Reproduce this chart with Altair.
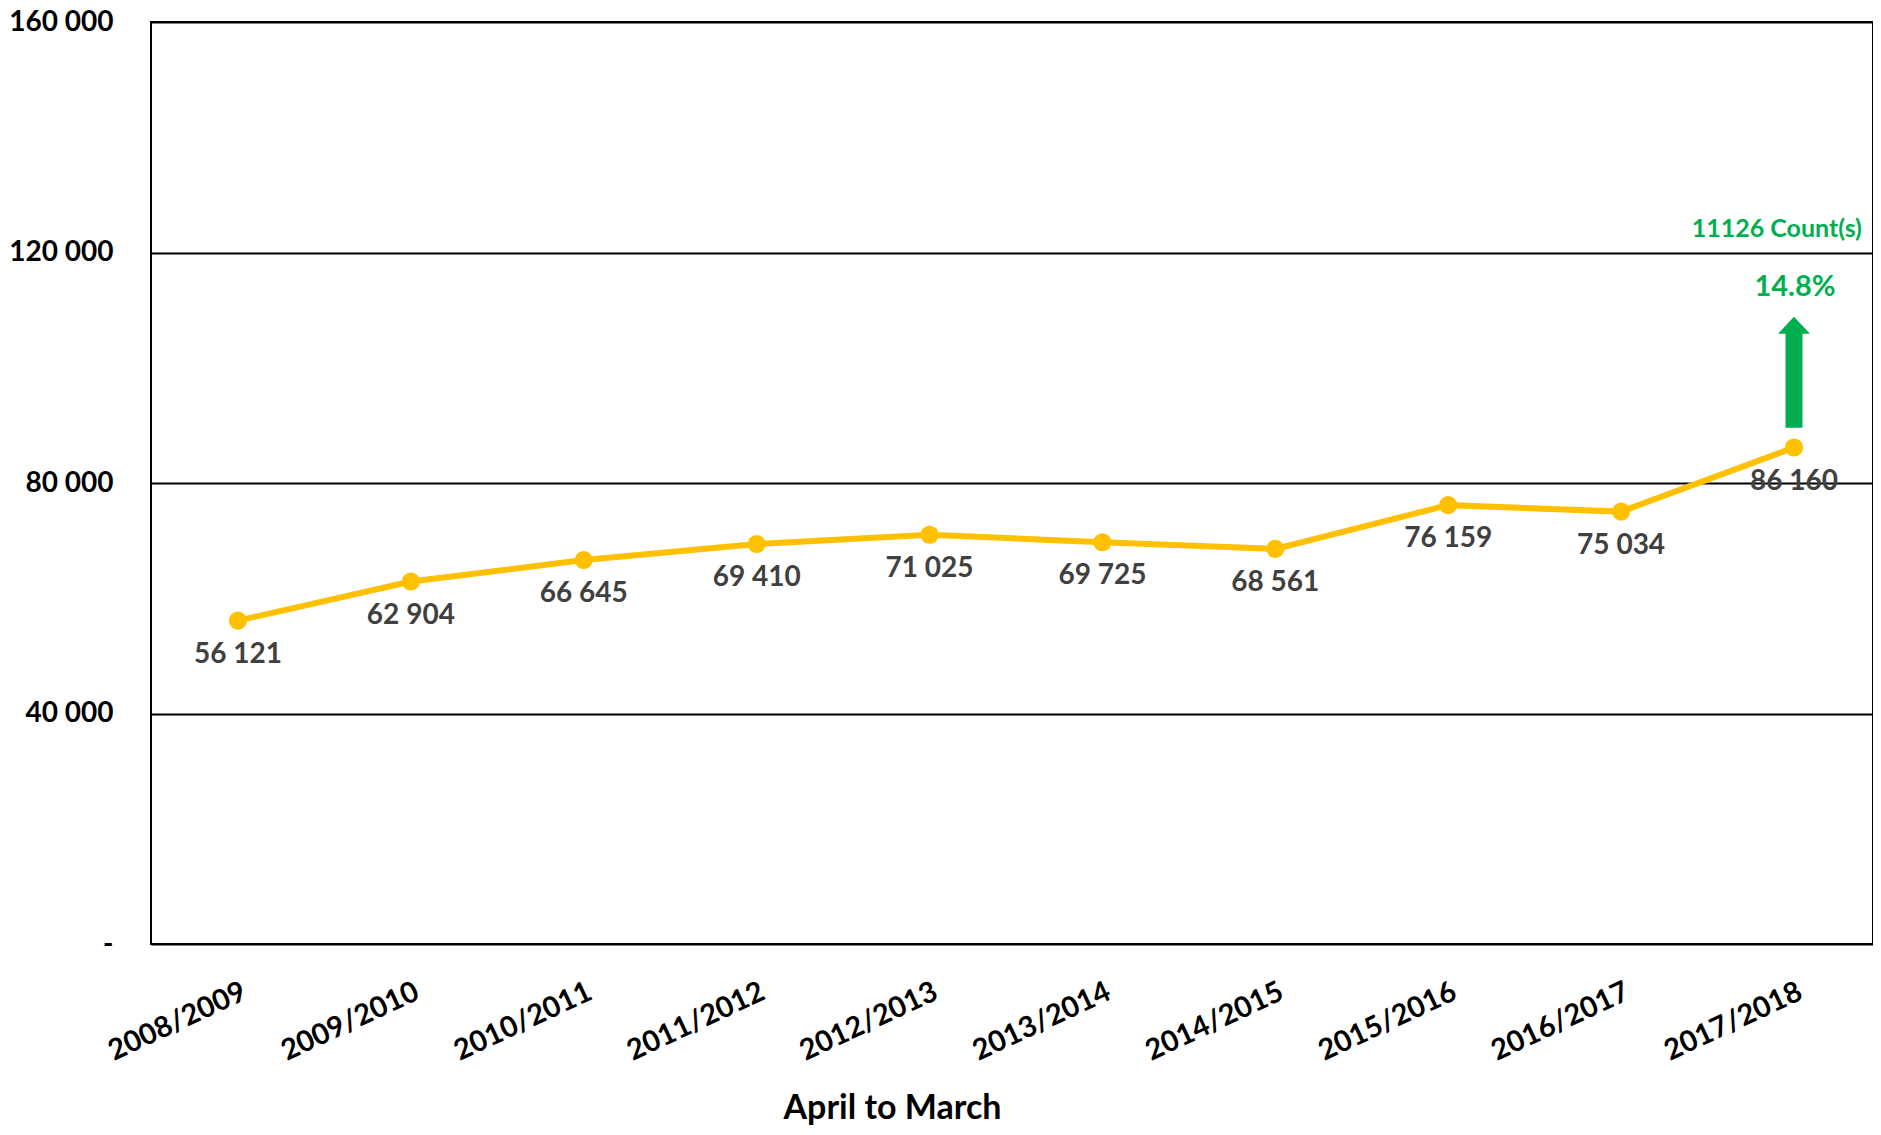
import altair as alt
import pandas as pd

years = ["2008/2009", "2009/2010", "2010/2011", "2011/2012", "2012/2013",
         "2013/2014", "2014/2015", "2015/2016", "2016/2017", "2017/2018"]
values = [56121, 62904, 66645, 69410, 71025, 69725, 68561, 76159, 75034, 86160]
y_ticks = [0, 40000, 80000, 120000, 160000]

change = values[-1] - values[-2]
pct = change / values[-2] * 100
count_text = f"{change} Count(s)"
pct_text = f"{pct:.1f}%"

df = pd.DataFrame({
    "year": years,
    "value": values,
    "label": [f"{v:,}".replace(",", " ") for v in values],
})

ann = pd.DataFrame({
    "year": [years[-1]],
    "count_y": [124100],
    "pct_y": [114000],
    "arrow_y": [99200],
    "count_text": [count_text],
    "pct_text": [pct_text],
})

FONT = "Lato"
GOLD = "#FFC000"
GREEN = "#00B050"

xscale = alt.Scale(padding=0.48, align=0.524)

x = alt.X("year:N", sort=years, scale=xscale,
          axis=alt.Axis(title="April to March", labelAngle=335, labelAlign="right",
                        labelBaseline="top", labelPadding=33, labelFont=FONT,
                        labelFontSize=29, labelFontWeight="bold", labelColor="#000000",
                        ticks=False, domain=False, grid=False,
                        titleFont=FONT, titleFontSize=34, titleFontWeight="bold",
                        titleColor="#000000", titleX=741, titleY=174,
                        titleBaseline="alphabetic", titleAlign="center"))
y = alt.Y("value:Q",
          scale=alt.Scale(domain=[0, 160000], nice=False),
          axis=alt.Axis(title=None, values=y_ticks, labelFont=FONT, labelFontSize=28,
                        labelFontWeight="bold", labelColor="#000000", labelPadding=38,
                        ticks=False, domain=False, grid=True, gridColor="#000000",
                        gridWidth=2, gridOpacity=1,
                        labelExpr="datum.value == 0 ? '-\u00a0\u00a0' : replace(format(datum.value, ','), ',', ' ')"))

base = alt.Chart(df).encode(x=x, y=y)
line = base.mark_line(color=GOLD, strokeWidth=6)
pts = base.mark_point(color=GOLD, filled=True, opacity=1, size=330)
labels = base.mark_text(dy=34, fontSize=28, font=FONT, fontWeight="bold",
                        color="#404040", baseline="middle").encode(text="label:N")

abase = alt.Chart(ann)
xa = alt.X("year:N", sort=years, scale=xscale)
count_t = abase.mark_text(align="right", dx=68, fontSize=25, font=FONT, fontWeight="bold",
                          color=GREEN, baseline="middle").encode(
    x=xa, y=alt.Y("count_y:Q"), text="count_text:N")
pct_t = abase.mark_text(align="center", dx=1, fontSize=29, font=FONT, fontWeight="bold",
                        color=GREEN, baseline="middle").encode(
    x=xa, y=alt.Y("pct_y:Q"), text="pct_text:N")
arrow_path = ("M0,-1 L0.288,-0.694 L0.153,-0.694 L0.153,1 L-0.153,1 "
              "L-0.153,-0.694 L-0.288,-0.694 Z")
arrow = abase.mark_point(shape=arrow_path, filled=True, color=GREEN, opacity=1,
                         size=12321, strokeWidth=0).encode(
    x=xa, y=alt.Y("arrow_y:Q"))

chart = alt.layer(line, pts, labels, arrow, pct_t, count_t).properties(
    width=1722, height=922,
    autosize=alt.AutoSizeParams(type="none"),
    padding={"left": 143, "top": 14, "right": 0, "bottom": 182},
).configure(background="white").configure_view(stroke="#000000", strokeWidth=2)

chart.save("out.html", embed_options={"renderer": "svg", "actions": False})
